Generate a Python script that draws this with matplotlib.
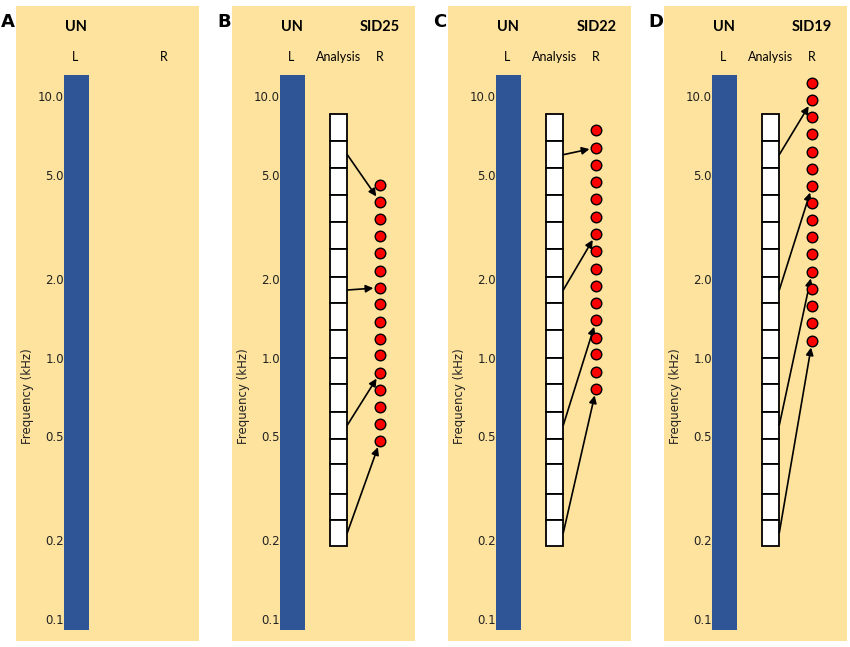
import matplotlib.pyplot as plt

# panel labels and headers
panel_letters = ["A", "B", "C", "D"]
right_titles = ["", "SID25", "SID22", "SID19"]

# full range of the left (UN) electrode array, kHz
left_range = [0.091, 12.0]

# analysis filter band edges (kHz), top to bottom, 16 bands
band_edges = [8.53, 6.72, 5.30, 4.18, 3.29, 2.59, 2.04, 1.61, 1.27, 1.0,
              0.79, 0.62, 0.49, 0.39, 0.30, 0.24, 0.19]

# right electrode place frequencies (kHz), 16 electrodes each
right_b = [4.56, 3.93, 3.38, 2.91, 2.50, 2.15, 1.85, 1.60, 1.37, 1.18,
           1.02, 0.875, 0.753, 0.649, 0.558, 0.481]
right_c = [7.40, 6.35, 5.46, 4.69, 4.03, 3.46, 2.97, 2.55, 2.19, 1.88,
           1.62, 1.39, 1.19, 1.03, 0.88, 0.76]
right_d = [11.2, 9.64, 8.29, 7.13, 6.13, 5.27, 4.53, 3.90, 3.35, 2.88,
           2.48, 2.13, 1.83, 1.57, 1.35, 1.16]
right_freqs = [None, right_b, right_c, right_d]

# which band maps to which electrode (1-based indices)
arrows_b = [(2, 2), (7, 7), (12, 12), (16, 16)]
arrows_c = [(2, 2), (7, 7), (12, 12), (16, 16)]
arrows_d = [(2, 2), (7, 7), (12, 12), (16, 16)]
arrow_sets = [None, arrows_b, arrows_c, arrows_d]

tick_vals = [0.1, 0.2, 0.5, 1.0, 2.0, 5.0, 10.0]
tick_text = ["0.1", "0.2", "0.5", "1.0", "2.0", "5.0", "10.0"]

bg_color = "#FDE39E"
bar_color = "#2F5597"

fig = plt.figure(figsize=(8.5, 6.47), dpi=100)
lefts = [16, 232, 448, 664]

for i in range(4):
    ax = fig.add_axes([lefts[i] / 850, 0.0093, 183 / 850, 0.9814])
    ax.set_facecolor(bg_color)
    ax.set_yscale("log")
    ax.set_ylim(0.0824, 22.1)
    ax.set_xlim(0, 1)
    for s in ax.spines.values():
        s.set_visible(False)
    ax.spines["left"].set_position(("axes", 0.265))
    ax.set_xticks([])
    ax.set_yticks(tick_vals)
    ax.set_yticklabels(tick_text, fontsize=8.5, color="#222222")
    ax.yaxis.set_minor_locator(plt.NullLocator())
    ax.tick_params(axis="y", length=0, pad=0.5)
    ax.set_ylabel("Frequency (kHz)", fontsize=8.5, color="#222222")
    ax.yaxis.set_label_coords(0.1, 0.385)

    # left electrode array
    ax.bar(0.3325, left_range[1] - left_range[0], bottom=left_range[0],
           width=0.135, color=bar_color, zorder=2)

    ax.text(0.33, 0.967, "UN", transform=ax.transAxes, ha="center", va="center",
            fontsize=10.5, fontweight="bold", family="Lato")
    ax.text(0.325, 0.92, "L", transform=ax.transAxes, ha="center", va="center",
            fontsize=9, family="Lato")
    ax.text(0.81, 0.92, "R", transform=ax.transAxes, ha="center", va="center",
            fontsize=9, family="Lato")
    fig.text((lefts[i] - 8) / 850, 1 - 22 / 647, panel_letters[i], ha="center",
             va="center", fontsize=13, fontweight="bold")

    if i == 0:
        continue

    ax.text(0.81, 0.967, right_titles[i], transform=ax.transAxes, ha="center",
            va="center", fontsize=10.5, fontweight="bold", family="Lato")
    ax.text(0.58, 0.92, "Analysis", transform=ax.transAxes, ha="center",
            va="center", fontsize=9, family="Lato")

    # analysis bands
    tops = band_edges[:-1]
    bottoms = band_edges[1:]
    heights = [t - b for t, b in zip(tops, bottoms)]
    ax.bar([0.5835] * 16, heights, bottom=bottoms, width=0.093,
           color="white", edgecolor="black", linewidth=1.3, zorder=3)

    # right electrodes
    ax.scatter([0.81] * 16, right_freqs[i], s=58, color="red",
               edgecolors="black", linewidths=1, zorder=5)

    for band, elec in arrow_sets[i]:
        f_band = (band_edges[band - 1] * band_edges[band]) ** 0.5
        ax.annotate("", xy=(0.81, right_freqs[i][elec - 1]),
                    xytext=(0.63, f_band),
                    arrowprops=dict(arrowstyle="-|>", color="black", lw=1.2,
                                    shrinkA=0, shrinkB=5, mutation_scale=11),
                    zorder=4)

fig.savefig("out.png", dpi=100, facecolor="white")
